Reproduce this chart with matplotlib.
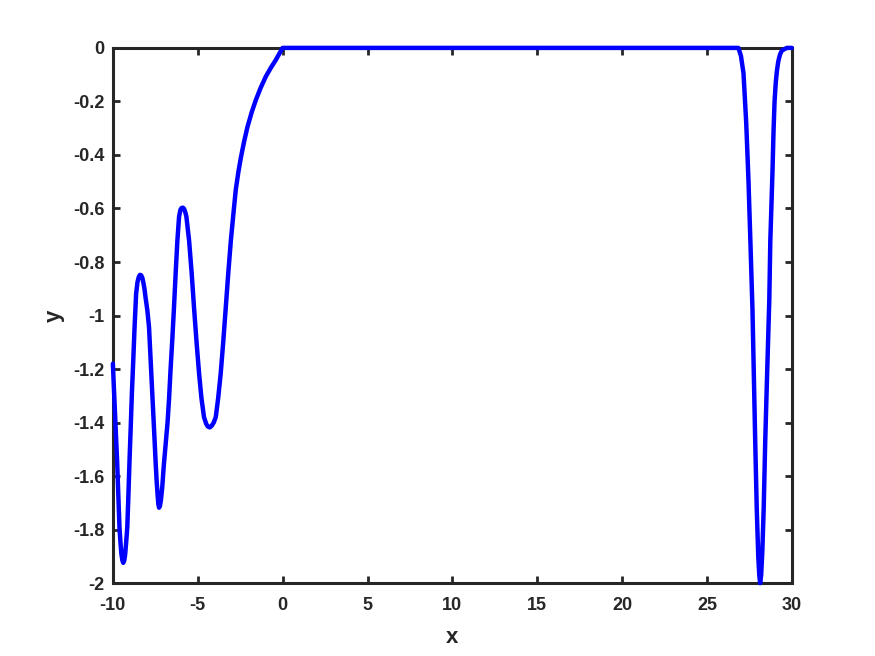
import matplotlib
matplotlib.use('Agg')
from matplotlib import pyplot as plt

# points
x_vals = [-10.0, -9.94, -9.87, -9.81, -9.75, -9.68, -9.61, -9.55, -9.5, -9.44,
          -9.39, -9.33, -9.28, -9.22, -9.15, -9.09, -9.02, -8.95, -8.88, -8.8,
          -8.72, -8.63, -8.55, -8.47, -8.4, -8.33, -8.26, -8.2, -8.14, -8.07,
          -7.97, -7.87, -7.78, -7.68, -7.58, -7.48, -7.42, -7.36, -7.32, -7.28,
          -7.23, -7.17, -7.09, -7.0, -6.89, -6.78, -6.69, -6.6, -6.5, -6.4,
          -6.3, -6.2, -6.1, -6.02, -5.95, -5.87, -5.8, -5.73, -5.67, -5.51,
          -5.36, -5.22, -5.07, -4.92, -4.78, -4.63, -4.5, -4.4, -4.29, -4.18,
          -4.06, -3.94, -3.8, -3.65, -3.5, -3.35, -3.2, -3.05, -2.9, -2.76,
          -2.61, -2.46, -2.27, -2.07, -1.82, -1.58, -1.3, -0.99, -0.7, -0.4,
          -0.18, 0.0,
          26.6, 26.85, 27.0, 27.15, 27.31, 27.44, 27.56, 27.68, 27.84, 27.93,
          28.02, 28.08, 28.13, 28.19, 28.26, 28.34, 28.43, 28.55, 28.67, 28.73,
          28.8, 28.86, 28.92, 28.98, 29.05, 29.12, 29.2, 29.3, 29.41, 29.7, 30.0]
y_vals = [-1.18, -1.27, -1.37, -1.46, -1.543, -1.67, -1.793, -1.85, -1.89, -1.915,
          -1.924, -1.915, -1.895, -1.85, -1.79, -1.68, -1.543, -1.42, -1.29, -1.169,
          -1.04, -0.918, -0.875, -0.855, -0.848, -0.85, -0.86, -0.878, -0.9, -0.935,
          -0.98, -1.044, -1.16, -1.29, -1.418, -1.55, -1.62, -1.675, -1.705, -1.718,
          -1.712, -1.69, -1.64, -1.56, -1.48, -1.40, -1.31, -1.2, -1.09, -0.97,
          -0.84, -0.72, -0.63, -0.605, -0.598, -0.597, -0.602, -0.615, -0.63, -0.72,
          -0.84, -0.97, -1.1, -1.218, -1.31, -1.38, -1.405, -1.415, -1.418, -1.412,
          -1.4, -1.38, -1.31, -1.218, -1.1, -0.97, -0.84, -0.72, -0.62, -0.53,
          -0.465, -0.41, -0.35, -0.295, -0.24, -0.195, -0.15, -0.107, -0.075, -0.045,
          -0.02, 0.0,
          0.0, 0.0, -0.03, -0.095, -0.28, -0.49, -0.73, -0.98, -1.47, -1.72,
          -1.9, -1.97, -2.0, -1.97, -1.88, -1.72, -1.47, -1.2, -0.94, -0.72,
          -0.58, -0.457, -0.31, -0.2, -0.13, -0.085, -0.05, -0.025, -0.01, 0.0, 0.0]

x_ticks = [-10, -5, 0, 5, 10, 15, 20, 25, 30]
y_ticks = [0, -0.2, -0.4, -0.6, -0.8, -1, -1.2, -1.4, -1.6, -1.8, -2]
y_tick_labels = ['0', '-0.2', '-0.4', '-0.6', '-0.8', '-1', '-1.2', '-1.4', '-1.6', '-1.8', '-2']
x_tick_labels = ['-10', '-5', '0', '5', '10', '15', '20', '25', '30']

plt.rcParams['font.family'] = ['Liberation Sans', 'DejaVu Sans']
plt.rcParams['font.weight'] = 'bold'
plt.rcParams['axes.unicode_minus'] = False
text_color = '#262626'

fig = plt.figure(figsize=(8.75, 6.56), dpi=100)
ax = fig.add_axes([0.129, 0.111, 0.776, 0.816])

# line sits on the top edge in the flat part, so draw it over the box
ax.plot(x_vals, y_vals, color='#0000ff', linewidth=3.2, solid_joinstyle='round',
        solid_capstyle='round', clip_on=False, zorder=5)

ax.set_xlim(-10, 30)
ax.set_ylim(-2, 0)
ax.set_xticks(x_ticks)
ax.set_xticklabels(x_tick_labels)
ax.set_yticks(y_ticks)
ax.set_yticklabels(y_tick_labels)
ax.tick_params(direction='in', length=5, width=2, top=True, right=True,
               labelsize=13, colors=text_color, pad=6)
ax.tick_params(axis='x', pad=10)
for lbl in ax.get_xticklabels() + ax.get_yticklabels():
    lbl.set_fontweight('bold')
for sp in ax.spines.values():
    sp.set_linewidth(2.2)
    sp.set_color(text_color)
    sp.set_zorder(3)

ax.set_xlabel('x', fontsize=16, fontweight='bold', color=text_color, labelpad=9)
ax.set_ylabel('y', fontsize=16, fontweight='bold', color=text_color, labelpad=6)

fig.savefig('out.png', dpi=100)
